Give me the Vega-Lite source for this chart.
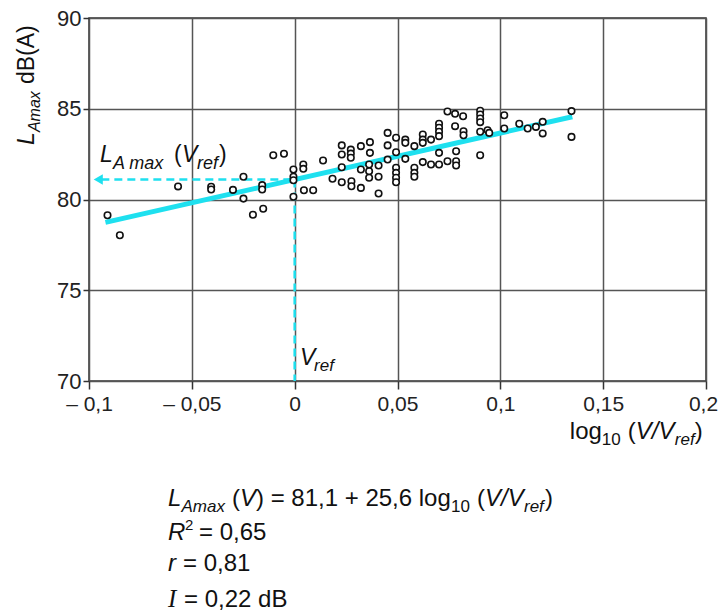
{
  "$schema": "https://vega.github.io/schema/vega-lite/v6.json",
  "width": 617,
  "height": 363,
  "autosize": "none",
  "padding": {"left": 89, "top": 18, "right": 13, "bottom": 230},
  "background": "white",
  "data": {"values": [{}]},
  "config": {
    "view": {"stroke": "#333", "strokeWidth": 1.5},
    "font": "Liberation Sans",
    "text": {"font": "Liberation Sans", "color": "#111", "align": "left", "baseline": "alphabetic"}
  },
  "datasets": {
    "pts": [
      {"x": -0.0910, "y": 79.13}, {"x": -0.0850, "y": 78.03}, {"x": -0.0567, "y": 80.72},
      {"x": -0.0406, "y": 80.70}, {"x": -0.0406, "y": 80.55}, {"x": -0.0300, "y": 80.53},
      {"x": -0.0249, "y": 81.25}, {"x": -0.0249, "y": 80.05}, {"x": -0.0203, "y": 79.16},
      {"x": -0.0153, "y": 79.49}, {"x": -0.0158, "y": 80.79}, {"x": -0.0158, "y": 80.55},
      {"x": -0.0104, "y": 82.44}, {"x": -0.0052, "y": 82.52}, {"x": -0.0006, "y": 81.65},
      {"x": -0.0006, "y": 81.25}, {"x": -0.0006, "y": 81.06}, {"x": -0.0006, "y": 80.15},
      {"x": 0.0042, "y": 81.93}, {"x": 0.0042, "y": 81.69}, {"x": 0.0045, "y": 80.51},
      {"x": 0.0090, "y": 80.51}, {"x": 0.0138, "y": 82.15}, {"x": 0.0184, "y": 81.14},
      {"x": 0.0229, "y": 82.98}, {"x": 0.0229, "y": 82.48}, {"x": 0.0229, "y": 81.78},
      {"x": 0.0229, "y": 80.95}, {"x": 0.0273, "y": 82.75}, {"x": 0.0273, "y": 82.53},
      {"x": 0.0273, "y": 82.30}, {"x": 0.0276, "y": 81.01}, {"x": 0.0276, "y": 80.73},
      {"x": 0.0322, "y": 82.94}, {"x": 0.0366, "y": 83.16}, {"x": 0.0366, "y": 82.57},
      {"x": 0.0322, "y": 81.65}, {"x": 0.0322, "y": 80.64}, {"x": 0.0362, "y": 81.93},
      {"x": 0.0362, "y": 81.56}, {"x": 0.0362, "y": 81.20}, {"x": 0.0408, "y": 81.87},
      {"x": 0.0408, "y": 81.25}, {"x": 0.0408, "y": 80.33}, {"x": 0.0452, "y": 83.67},
      {"x": 0.0452, "y": 82.98}, {"x": 0.0452, "y": 82.20}, {"x": 0.0493, "y": 83.40},
      {"x": 0.0493, "y": 82.60}, {"x": 0.0493, "y": 81.75}, {"x": 0.0493, "y": 81.47},
      {"x": 0.0493, "y": 81.20}, {"x": 0.0493, "y": 80.95}, {"x": 0.0538, "y": 83.30},
      {"x": 0.0538, "y": 83.12}, {"x": 0.0538, "y": 82.24}, {"x": 0.0582, "y": 82.94},
      {"x": 0.0582, "y": 81.75}, {"x": 0.0582, "y": 81.47}, {"x": 0.0582, "y": 81.25},
      {"x": 0.0623, "y": 83.58}, {"x": 0.0623, "y": 83.30}, {"x": 0.0623, "y": 83.12},
      {"x": 0.0623, "y": 82.06}, {"x": 0.0663, "y": 83.30}, {"x": 0.0663, "y": 81.93},
      {"x": 0.0702, "y": 84.17}, {"x": 0.0702, "y": 83.95}, {"x": 0.0702, "y": 83.73},
      {"x": 0.0702, "y": 83.49}, {"x": 0.0702, "y": 82.57}, {"x": 0.0702, "y": 81.93},
      {"x": 0.0743, "y": 84.85}, {"x": 0.0743, "y": 82.11}, {"x": 0.0780, "y": 84.72},
      {"x": 0.0780, "y": 84.04}, {"x": 0.0785, "y": 82.66}, {"x": 0.0785, "y": 82.11},
      {"x": 0.0785, "y": 81.87}, {"x": 0.0819, "y": 84.59}, {"x": 0.0821, "y": 83.76},
      {"x": 0.0821, "y": 83.54}, {"x": 0.0902, "y": 84.89}, {"x": 0.0902, "y": 84.68},
      {"x": 0.0902, "y": 84.46}, {"x": 0.0902, "y": 84.26}, {"x": 0.0902, "y": 83.73},
      {"x": 0.0902, "y": 82.44}, {"x": 0.0938, "y": 83.82}, {"x": 0.0946, "y": 83.67},
      {"x": 0.1019, "y": 84.64}, {"x": 0.1019, "y": 83.91}, {"x": 0.1092, "y": 84.17},
      {"x": 0.1133, "y": 83.91}, {"x": 0.1173, "y": 84.00}, {"x": 0.1206, "y": 84.28},
      {"x": 0.1206, "y": 83.64}, {"x": 0.1346, "y": 84.87}, {"x": 0.1346, "y": 83.45}
    ],
    "fit": [{"x": -0.092, "y": 78.74}, {"x": 0.135, "y": 84.56}],
    "hdash": [{"x": 0.0, "y": 81.1}, {"x": -0.094, "y": 81.1}],
    "vdash": [{"x": 0.0, "y": 81.1}, {"x": 0.0, "y": 70.0}]
  },
  "layer": [
    {
      "data": {"name": "hdash"},
      "mark": {"type": "line", "color": "#1ee0ef", "strokeWidth": 2.5, "strokeDash": [8, 5]},
      "encoding": {
        "x": {"field": "x", "type": "quantitative",
              "scale": {"domain": [-0.1, 0.2], "nice": false, "zero": false},
              "axis": {"values": [-0.1, -0.05, 0, 0.05, 0.1, 0.15, 0.2], "title": null,
                       "labelExpr": "datum.value < 0 ? '– ' + replace(format(-datum.value, '~g'), '.', ',') : replace(format(datum.value, '~g'), '.', ',')",
                       "labelFontSize": 21, "labelColor": "#222", "labelFont": "Liberation Sans",
                       "labelFlush": false, "labelOverlap": false, "labelPadding": 4,
                       "labelOffset": {"condition": {"test": "datum.value > 0.19", "value": -3}, "value": 0},
                       "grid": true, "gridColor": "#555", "gridWidth": 1.5,
                       "tickColor": "#333", "tickSize": 8, "tickWidth": 1.5, "domain": false}},
        "y": {"field": "y", "type": "quantitative",
              "scale": {"domain": [70, 90], "nice": false, "zero": false},
              "axis": {"values": [70, 75, 80, 85, 90], "title": null,
                       "labelFontSize": 22, "labelColor": "#222", "labelFont": "Liberation Sans",
                       "labelFlush": false, "labelOverlap": false, "labelPadding": 2,
                       "grid": true, "gridColor": "#555", "gridWidth": 1.5,
                       "tickColor": "#333", "tickSize": 6, "tickWidth": 1.5, "domain": false}},
        "order": {"field": "x", "type": "quantitative"}
      }
    },
    {
      "mark": {"type": "point", "shape": "triangle-left", "filled": true, "color": "#1ee0ef", "size": 110, "opacity": 1},
      "encoding": {"x": {"datum": -0.0955}, "y": {"datum": 81.1}}
    },
    {
      "data": {"name": "vdash"},
      "mark": {"type": "line", "color": "#1ee0ef", "strokeWidth": 2.5, "strokeDash": [8, 5]},
      "encoding": {"x": {"field": "x", "type": "quantitative"}, "y": {"field": "y", "type": "quantitative"}, "order": {"field": "y", "type": "quantitative", "sort": "descending"}}
    },
    {
      "data": {"name": "fit"},
      "mark": {"type": "line", "color": "#1ee0ef", "strokeWidth": 5},
      "encoding": {"x": {"field": "x", "type": "quantitative"}, "y": {"field": "y", "type": "quantitative"}}
    },
    {
      "data": {"name": "pts"},
      "mark": {"type": "point", "shape": "circle", "filled": false, "stroke": "#111", "fill": "white", "fillOpacity": 1, "strokeWidth": 1.6, "size": 42, "opacity": 1},
      "encoding": {"x": {"field": "x", "type": "quantitative"}, "y": {"field": "y", "type": "quantitative"}}
    },

    {"mark": {"type": "text", "text": "L", "fontSize": 23, "fontStyle": "italic", "angle": 270, "dx": 0, "dy": 0},
     "encoding": {"x": {"datum": -0.1268}, "y": {"datum": 83.0}}},
    {"mark": {"type": "text", "text": "Amax", "fontSize": 16, "fontStyle": "italic", "angle": 270, "dx": 13, "dy": 6},
     "encoding": {"x": {"datum": -0.1268}, "y": {"datum": 83.0}}},
    {"mark": {"type": "text", "text": "dB(A)", "fontSize": 23, "angle": 270, "dx": 61, "dy": 0},
     "encoding": {"x": {"datum": -0.1268}, "y": {"datum": 83.0}}},

    {"mark": {"type": "text", "text": "L", "fontSize": 23, "fontStyle": "italic", "dx": 0},
     "encoding": {"x": {"datum": -0.0947}, "y": {"datum": 82.066}}},
    {"mark": {"type": "text", "text": "A max", "fontSize": 18, "fontStyle": "italic", "dx": 13, "dy": 7},
     "encoding": {"x": {"datum": -0.0947}, "y": {"datum": 82.066}}},
    {"mark": {"type": "text", "text": "(", "fontSize": 23, "dx": 74},
     "encoding": {"x": {"datum": -0.0947}, "y": {"datum": 82.066}}},
    {"mark": {"type": "text", "text": "V", "fontSize": 23, "fontStyle": "italic", "dx": 82},
     "encoding": {"x": {"datum": -0.0947}, "y": {"datum": 82.066}}},
    {"mark": {"type": "text", "text": "ref", "fontSize": 18, "fontStyle": "italic", "dx": 97, "dy": 7},
     "encoding": {"x": {"datum": -0.0947}, "y": {"datum": 82.066}}},
    {"mark": {"type": "text", "text": ")", "fontSize": 23, "dx": 119},
     "encoding": {"x": {"datum": -0.0947}, "y": {"datum": 82.066}}},

    {"mark": {"type": "text", "text": "V", "fontSize": 23, "fontStyle": "italic", "dx": 0},
     "encoding": {"x": {"datum": 0.0026}, "y": {"datum": 70.88}}},
    {"mark": {"type": "text", "text": "ref", "fontSize": 17, "fontStyle": "italic", "dx": 14, "dy": 6},
     "encoding": {"x": {"datum": 0.0026}, "y": {"datum": 70.88}}},

    {"mark": {"type": "text", "text": "log", "fontSize": 24, "dx": 0},
     "encoding": {"x": {"datum": 0.1338}, "y": {"datum": 66.8}}},
    {"mark": {"type": "text", "text": "10", "fontSize": 17, "dx": 32, "dy": 6},
     "encoding": {"x": {"datum": 0.1338}, "y": {"datum": 66.8}}},
    {"mark": {"type": "text", "text": "(", "fontSize": 24, "dx": 58},
     "encoding": {"x": {"datum": 0.1338}, "y": {"datum": 66.8}}},
    {"mark": {"type": "text", "text": "V/V", "fontSize": 24, "fontStyle": "italic", "dx": 66},
     "encoding": {"x": {"datum": 0.1338}, "y": {"datum": 66.8}}},
    {"mark": {"type": "text", "text": "ref", "fontSize": 17, "fontStyle": "italic", "dx": 105, "dy": 6},
     "encoding": {"x": {"datum": 0.1338}, "y": {"datum": 66.8}}},
    {"mark": {"type": "text", "text": ")", "fontSize": 24, "dx": 125},
     "encoding": {"x": {"datum": 0.1338}, "y": {"datum": 66.8}}},

    {"mark": {"type": "text", "text": "L", "fontSize": 24, "fontStyle": "italic", "dx": 0},
     "encoding": {"x": {"datum": -0.0616}, "y": {"datum": 63.11}}},
    {"mark": {"type": "text", "text": "Amax", "fontSize": 17, "fontStyle": "italic", "dx": 13.5, "dy": 6},
     "encoding": {"x": {"datum": -0.0616}, "y": {"datum": 63.11}}},
    {"mark": {"type": "text", "text": "(", "fontSize": 24, "dx": 64},
     "encoding": {"x": {"datum": -0.0616}, "y": {"datum": 63.11}}},
    {"mark": {"type": "text", "text": "V", "fontSize": 24, "fontStyle": "italic", "dx": 72},
     "encoding": {"x": {"datum": -0.0616}, "y": {"datum": 63.11}}},
    {"mark": {"type": "text", "text": ") = 81,1 + 25,6 log", "fontSize": 24, "dx": 88},
     "encoding": {"x": {"datum": -0.0616}, "y": {"datum": 63.11}}},
    {"mark": {"type": "text", "text": "10", "fontSize": 17, "dx": 283, "dy": 6},
     "encoding": {"x": {"datum": -0.0616}, "y": {"datum": 63.11}}},
    {"mark": {"type": "text", "text": "(", "fontSize": 24, "dx": 309},
     "encoding": {"x": {"datum": -0.0616}, "y": {"datum": 63.11}}},
    {"mark": {"type": "text", "text": "V/V", "fontSize": 24, "fontStyle": "italic", "dx": 317},
     "encoding": {"x": {"datum": -0.0616}, "y": {"datum": 63.11}}},
    {"mark": {"type": "text", "text": "ref", "fontSize": 17, "fontStyle": "italic", "dx": 356, "dy": 6},
     "encoding": {"x": {"datum": -0.0616}, "y": {"datum": 63.11}}},
    {"mark": {"type": "text", "text": ")", "fontSize": 24, "dx": 377},
     "encoding": {"x": {"datum": -0.0616}, "y": {"datum": 63.11}}},

    {"mark": {"type": "text", "text": "R", "fontSize": 24, "fontStyle": "italic", "dx": 0},
     "encoding": {"x": {"datum": -0.0616}, "y": {"datum": 61.24}}},
    {"mark": {"type": "text", "text": "2", "fontSize": 15, "dx": 17, "dy": -10},
     "encoding": {"x": {"datum": -0.0616}, "y": {"datum": 61.24}}},
    {"mark": {"type": "text", "text": "= 0,65", "fontSize": 24, "dx": 31},
     "encoding": {"x": {"datum": -0.0616}, "y": {"datum": 61.24}}},

    {"mark": {"type": "text", "text": "r", "fontSize": 24, "fontStyle": "italic", "dx": 0},
     "encoding": {"x": {"datum": -0.0616}, "y": {"datum": 59.532}}},
    {"mark": {"type": "text", "text": "= 0,81", "fontSize": 24, "dx": 15},
     "encoding": {"x": {"datum": -0.0616}, "y": {"datum": 59.532}}},

    {"mark": {"type": "text", "text": "I", "font": "Liberation Serif", "fontSize": 25, "fontStyle": "italic", "dx": 0},
     "encoding": {"x": {"datum": -0.0616}, "y": {"datum": 57.548}}},
    {"mark": {"type": "text", "text": "= 0,22 dB", "fontSize": 24, "dx": 16},
     "encoding": {"x": {"datum": -0.0616}, "y": {"datum": 57.548}}}
  ]
}
